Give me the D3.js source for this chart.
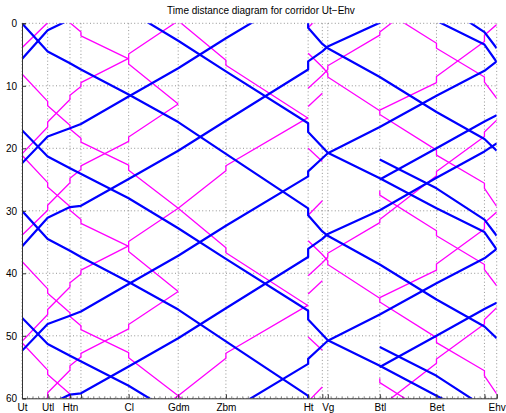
<!DOCTYPE html>
<html>
<head>
<meta charset="utf-8">
<script src="https://cdn.jsdelivr.net/npm/d3@7"></script>
<style>
  html, body { margin: 0; padding: 0; background: #fff; }
  svg text { font-family: "Liberation Sans", Arial, Helvetica, sans-serif; }
</style>
</head>
<body>
<svg id="chart" width="506" height="413"></svg>
<script>
// Stations along the Ut–Ehv corridor (position in km from Utrecht)
const stationCodes  = ["Ut","Utl","Htn","Htnc","Cl","Gdm","Zbm","Ht","Hto","Vg","Btl","Bet","Ehs","Ehv"];
const stationKm     = [0, 4.65, 8.69, 10.68, 19.32, 28.30, 36.94, 51.84, 54.41, 55.40, 64.82, 75.09, 83.78, 86.00];
const stationLabels = ["Ut","Utl","Htn","","Cl","Gdm","Zbm","Ht","","Vg","Btl","Bet","","Ehv"];
const timeTicks     = [0, 10, 20, 30, 40, 50, 60];

// Intercity runs (blue): each run is a list of [station, minute]
const icSouthA = [
  [["Ut",-30],["Utl",-25.5],["Htn",-23.6],["Htnc",-22.6],["Cl",-18.6],["Gdm",-14.2],["Zbm",-9.1],["Ht",-0.4],["Ht",0.7],["Hto",3.3],["Vg",4.0],["Btl",8.6],["Bet",14.2],["Ehs",18.5],["Ehv",20.4]],
  [["Ut",0],["Utl",4.5],["Htn",6.4],["Htnc",7.4],["Cl",11.4],["Gdm",15.8],["Zbm",20.9],["Ht",29.6],["Ht",30.7],["Hto",33.3],["Vg",34.0],["Btl",38.6],["Bet",44.2],["Ehs",48.5],["Ehv",50.4]],
  [["Ut",30],["Utl",34.5],["Htn",36.4],["Htnc",37.4],["Cl",41.4],["Gdm",45.8],["Zbm",50.9],["Ht",59.6],["Ht",60.7],["Hto",63.3],["Vg",64.0]]
];
const icSouthB = [
  [["Ut",-42.9],["Gdm",-27.2],["Zbm",-22.3],["Ht",-14.0],["Ht",-12.6],["Hto",-10.2],["Vg",-9.3],["Btl",-5.2],["Bet",-0.4],["Ehs",3.4],["Ehv",6.2]],
  [["Ut",-12.9],["Utl",-8.7],["Htn",-6.8],["Cl",-2.0],["Gdm",2.8],["Zbm",7.7],["Ht",16.0],["Ht",17.4],["Hto",19.8],["Vg",20.7],["Btl",24.8],["Bet",29.6],["Ehs",33.4],["Ehv",36.2]],
  [["Ut",17.1],["Utl",21.3],["Htn",23.2],["Cl",28.0],["Gdm",32.8],["Zbm",37.7],["Ht",46.0],["Ht",47.4],["Hto",49.8],["Vg",50.7],["Btl",54.8],["Bet",59.6],["Ehs",63.4]],
  [["Ut",47.1],["Utl",51.3],["Htn",53.2],["Cl",58.0],["Gdm",62.8]]
];
const icNorthD = [
  [["Ehv",-40.8],["Ehs",-39.5],["Bet",-35.3],["Btl",-30.1],["Vg",-26.3],["Hto",-25.5],["Ht",-23.9],["Ht",-22.6],["Zbm",-14.4],["Gdm",-9.6],["Cl",-5.1],["Htnc",-0.8],["Htn",-0.6],["Utl",1.1],["Ut",5.7]],
  [["Ehv",-10.8],["Ehs",-9.5],["Bet",-5.3],["Btl",-0.1],["Vg",3.7],["Hto",4.5],["Ht",6.1],["Ht",7.4],["Zbm",15.6],["Gdm",20.4],["Cl",24.9],["Htnc",29.2],["Htn",29.4],["Utl",31.1],["Ut",35.7]],
  [["Ehv",19.2],["Ehs",20.5],["Bet",24.7],["Btl",29.9],["Vg",33.7],["Hto",34.5],["Ht",36.1],["Ht",37.4],["Zbm",45.6],["Gdm",50.4],["Cl",54.9],["Htnc",59.2],["Htn",59.4],["Utl",61.1],["Ut",65.7]]
];
const icNorthF = [
  [["Ehv",-23.9],["Ehs",-22.4],["Bet",-18.4],["Btl",-13.4],["Vg",-9.2],["Hto",-8.4],["Ht",-6.3],["Ht",-5.5],["Zbm",2.4],["Gdm",7.2],["Cl",11.7],["Htnc",16.1],["Htn",16.8],["Utl",18.1],["Ut",22.4]],
  [["Ehv",6.1],["Ehs",7.6],["Bet",11.6],["Btl",16.6],["Vg",20.8],["Hto",21.6],["Ht",23.7],["Ht",24.5],["Zbm",32.4],["Gdm",37.2],["Cl",41.7],["Htnc",46.1],["Htn",46.8],["Utl",48.1],["Ut",52.4]],
  [["Ehv",36.1],["Ehs",37.6],["Bet",41.6],["Btl",46.6],["Vg",50.8],["Hto",51.6],["Ht",53.7],["Ht",54.5],["Zbm",62.4]]
];
const icBtlSouth = [
  [["Btl",-8.2],["Bet",-3.6],["Ehs",1.4],["Ehv",4.0]],
  [["Btl",21.8],["Bet",26.4],["Ehs",31.4],["Ehv",34.0]],
  [["Btl",51.8],["Bet",56.4],["Ehs",61.4],["Ehv",64.0]]
];
const icBtlNorth = [
  [["Ehv",14.7],["Ehs",15.7],["Bet",20.0],["Btl",25.0]],
  [["Ehv",44.7],["Ehs",45.7],["Bet",50.0],["Btl",55.0]]
];

// Sprinter runs (magenta)
const sprSouthHt = [
  [["Ut",-21.9],["Utl",-17.5],["Utl",-16.8],["Htn",-13.7],["Htn",-13.1],["Htnc",-11.6],["Htnc",-11.0],["Cl",-7.3],["Cl",-6.5],["Gdm",-0.4],["Zbm",5.9],["Zbm",6.7],["Ht",15.2]],
  [["Ut",8.1],["Utl",12.5],["Utl",13.2],["Htn",16.3],["Htn",16.9],["Htnc",18.4],["Htnc",19.0],["Cl",22.7],["Cl",23.5],["Gdm",29.6],["Zbm",35.9],["Zbm",36.7],["Ht",45.2]],
  [["Ut",38.1],["Utl",42.5],["Utl",43.2],["Htn",46.3],["Htn",46.9],["Htnc",48.4],["Htnc",49.0],["Cl",52.7],["Cl",53.5],["Gdm",59.6],["Zbm",65.9]]
];
const sprSouthGdm = [
  [["Ut",-8.9],["Utl",-4.5],["Utl",-3.8],["Htn",-0.7],["Htn",-0.1],["Htnc",1.4],["Htnc",2.0],["Cl",5.7],["Cl",6.5],["Gdm",12.9]],
  [["Ut",21.1],["Utl",25.5],["Utl",26.2],["Htn",29.3],["Htn",29.9],["Htnc",31.4],["Htnc",32.0],["Cl",35.7],["Cl",36.5],["Gdm",42.9]],
  [["Ut",51.1],["Utl",55.5],["Utl",56.2],["Htn",59.3],["Htn",59.9],["Htnc",61.4]]
];
const sprNorthHt = [
  [["Ht",-14.9],["Zbm",-7.2],["Zbm",-6.4],["Gdm",-0.4],["Cl",4.9],["Cl",5.6],["Htnc",9.5],["Htnc",10.1],["Htn",11.5],["Htn",12.2],["Utl",15.8],["Utl",16.6],["Ut",20.9]],
  [["Ht",15.1],["Zbm",22.8],["Zbm",23.6],["Gdm",29.6],["Cl",34.9],["Cl",35.6],["Htnc",39.5],["Htnc",40.1],["Htn",41.5],["Htn",42.2],["Utl",45.8],["Utl",46.6],["Ut",50.9]],
  [["Ht",45.1],["Zbm",52.8],["Zbm",53.6],["Gdm",59.6],["Cl",64.9]]
];
const sprNorthGdm = [
  [["Gdm",-17.1],["Cl",-11.8],["Cl",-11.1],["Htnc",-7.2],["Htnc",-6.6],["Htn",-5.2],["Htn",-4.5],["Utl",-0.9],["Utl",-0.1],["Ut",3.9]],
  [["Gdm",12.9],["Cl",18.2],["Cl",18.9],["Htnc",22.8],["Htnc",23.4],["Htn",24.8],["Htn",25.5],["Utl",29.1],["Utl",29.9],["Ut",33.9]],
  [["Gdm",42.9],["Cl",48.2],["Cl",48.9],["Htnc",52.8],["Htnc",53.4],["Htn",54.8],["Htn",55.5],["Utl",59.1],["Utl",59.9],["Ut",63.9]]
];
const sprSouthBtl = [
  [["Btl",-3.2],["Btl",-2.5],["Bet",3.2],["Bet",4.0],["Ehs",8.6],["Ehs",9.4],["Ehv",12.0]],
  [["Btl",26.8],["Btl",27.5],["Bet",33.2],["Bet",34.0],["Ehs",38.6],["Ehs",39.4],["Ehv",42.0]],
  [["Btl",56.8],["Btl",57.5],["Bet",63.2]]
];
const sprSouthHtEhv = [
  [["Ht",4.8],["Hto",7.0],["Vg",8.0],["Vg",8.6],["Btl",14.0],["Btl",14.6],["Bet",20.3],["Bet",21.1],["Ehs",25.6],["Ehs",26.4],["Ehv",29.3]],
  [["Ht",34.8],["Hto",37.0],["Vg",38.0],["Vg",38.6],["Btl",44.0],["Btl",44.6],["Bet",50.3],["Bet",51.1],["Ehs",55.6],["Ehs",56.4],["Ehv",59.3]]
];
const sprNorthEhvBtl = [
  [["Ehv",0.2],["Ehs",1.9],["Ehs",2.9],["Bet",8.5],["Bet",9.5],["Btl",13.9]],
  [["Ehv",30.2],["Ehs",31.9],["Ehs",32.9],["Bet",38.5],["Bet",39.5],["Btl",43.9]]
];
const sprNorthBtlHt = [
  [["Ehv",-14.5],["Ehs",-12.6],["Ehs",-11.9],["Bet",-6.3],["Bet",-5.6],["Btl",1.4],["Btl",1.9],["Vg",6.8],["Vg",7.4],["Hto",8.3],["Ht",10.4]],
  [["Ehv",15.5],["Ehs",17.4],["Ehs",18.1],["Bet",23.7],["Bet",24.4],["Btl",31.4],["Btl",31.9],["Vg",36.8],["Vg",37.4],["Hto",38.3],["Ht",40.4]],
  [["Ehv",45.5],["Ehs",47.4],["Ehs",48.1],["Bet",53.7],["Bet",54.4],["Btl",61.4]]
];
// Short runs between 's-Hertogenbosch and the Oost junction
const sprHtoSouth = [
  [["Ht",20.0],["Hto",22.1]],
  [["Ht",50.2],["Hto",52.3]]
];
const sprHtoNorth = [
  [["Hto",-1.6],["Ht",0.7]],
  [["Hto",11.2],["Ht",13.3]],
  [["Hto",28.4],["Ht",30.7]],
  [["Hto",41.2],["Ht",43.3]],
  [["Hto",58.2],["Ht",60.5]]
];

const sprinterRuns = [sprSouthHt, sprSouthGdm, sprNorthHt, sprNorthGdm, sprSouthBtl, sprSouthHtEhv,
                      sprNorthEhvBtl, sprNorthBtlHt, sprHtoSouth, sprHtoNorth].flat();
const intercityRuns = [icSouthA, icSouthB, icNorthD, icNorthF, icBtlSouth, icBtlNorth].flat();

// Layout
const plotLeft = 22, plotRight = 496.7, plotTop = 23.3, plotBottom = 398.3;
const svg = d3.select("#chart");

const kmOf = code => stationKm[stationCodes.indexOf(code)];
const x = d3.scaleLinear().domain([0, 86]).range([plotLeft, plotRight]);
const y = d3.scaleLinear().domain([0, 60]).range([plotTop, plotBottom]);

// Title
svg.append("text")
  .attr("x", 261).attr("y", 13.5)
  .attr("text-anchor", "middle")
  .attr("font-size", 10)
  .text("Time distance diagram for corridor Ut\u2212Ehv");

// Dotted grid
const grid = svg.append("g").attr("stroke", "#666").attr("stroke-width", 0.7)
  .attr("stroke-dasharray", "1 2.4").attr("fill", "none");
stationKm.forEach(k => {
  grid.append("line").attr("x1", x(k)).attr("x2", x(k)).attr("y1", plotTop).attr("y2", plotBottom);
});
timeTicks.forEach(t => {
  grid.append("line").attr("x1", plotLeft).attr("x2", plotRight).attr("y1", y(t)).attr("y2", y(t));
});

// Train paths, clipped to the plotting area
svg.append("clipPath").attr("id", "plotClip")
  .append("rect").attr("x", plotLeft).attr("y", plotTop)
  .attr("width", plotRight - plotLeft).attr("height", plotBottom - plotTop);

const path = d3.line().x(d => x(kmOf(d[0]))).y(d => y(d[1]));
const trains = svg.append("g").attr("clip-path", "url(#plotClip)").attr("fill", "none")
  .attr("stroke-linejoin", "round").attr("stroke-linecap", "butt");

trains.selectAll("path.spr").data(sprinterRuns).join("path")
  .attr("class", "spr").attr("d", path)
  .attr("stroke", "#ff00ff").attr("stroke-width", 1.3);

trains.selectAll("path.ic").data(intercityRuns).join("path")
  .attr("class", "ic").attr("d", path)
  .attr("stroke", "#0000ff").attr("stroke-width", 2.2);

// Minor ticks along the distance axis (every km)
const minorKm = d3.range(1, 86, 1);
svg.append("g").attr("stroke", "#333").attr("stroke-width", 0.6)
  .selectAll("line").data(minorKm).join("line")
  .attr("x1", d => x(d)).attr("x2", d => x(d))
  .attr("y1", plotBottom).attr("y2", plotBottom - 2);

// Axes
const xAxis = d3.axisBottom(x).tickValues(stationKm)
  .tickFormat((d, i) => stationLabels[i]).tickSize(-4).tickPadding(6);
const yAxis = d3.axisLeft(y).tickValues(timeTicks).tickSize(-4).tickPadding(5);

const gx = svg.append("g").attr("transform", `translate(0,${plotBottom})`).call(xAxis);
const gy = svg.append("g").attr("transform", `translate(${plotLeft},0)`).call(yAxis);
[gx, gy].forEach(g => {
  g.select(".domain").attr("stroke", "#333");
  g.selectAll(".tick line").attr("stroke", "#333");
  g.selectAll(".tick text").attr("font-size", 10).attr("fill", "#000")
    .attr("font-family", "'Liberation Sans', Arial, sans-serif");
});
</script>
</body>
</html>
